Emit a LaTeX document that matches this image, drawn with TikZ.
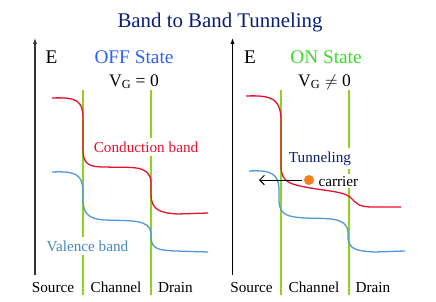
\documentclass[tikz,border=0pt]{standalone}
\usepackage{fontspec}
\setmainfont{Liberation Serif}
\definecolor{navy}{HTML}{0A1E78}
\definecolor{cband}{HTML}{E8102A}
\definecolor{vband}{HTML}{4F97DA}
\definecolor{gate}{HTML}{8CD41E}
\definecolor{offblue}{HTML}{2E62F5}
\definecolor{ongreen}{HTML}{3CDC2C}
\definecolor{carr}{HTML}{F0821E}
\usetikzlibrary{arrows.meta}

\begin{document}
\begin{tikzpicture}[x=0.03cm, y=-0.03cm,
  lbl/.style={font=\fontsize{13}{15}\selectfont, inner sep=1pt, anchor=base},
  state/.style={font=\fontsize{16.5}{19}\selectfont, inner sep=1pt, anchor=base},
  bandlbl/.style={lbl, fill=white, inner sep=3pt},
  axis/.style={draw=black!80, line width=1.2pt, -{Latex[length=5pt,width=3.5pt]}},
  wall/.style={draw=gate, line width=1pt},
  cb/.style={draw=cband, line width=1.1pt},
  vb/.style={draw=vband, line width=1.1pt},
  carrier/.style={circle, fill=carr, minimum size=0.3cm, inner sep=0pt},
  tunarrow/.style={draw=black, line width=0.8pt, -{Straight Barb[length=4pt,width=8pt]}},
]
\useasboundingbox (0,0) rectangle (436,302);

\node[state, font=\fontsize{17.8}{20}\selectfont, text=navy] (title) at (220,27) {Band to Band Tunneling};

% OFF state
\coordinate (aoff0) at (35,275);
\coordinate (aoff1) at (35,38);
\draw[axis] (aoff0) -- (aoff1);
\coordinate (woff1a) at (83,90);
\coordinate (woff1b) at (83,295);
\coordinate (woff2a) at (151,90);
\coordinate (woff2b) at (151,295);
\draw[wall] (woff1a) -- (woff1b);
\draw[wall] (woff2a) -- (woff2b);

\node[state] (eoff) at (51.5,63) {E};
\node[state, text=offblue] (off) at (134,63) {OFF State};
\node[state, font=\fontsize{15}{18}\selectfont] (vgoff) at (134,86) {V$_\mathrm{G}$ = 0};
\node[bandlbl, text=cband] (cbl) at (146,152) {Conduction band};
\node[bandlbl, text=vband!90!black] (vbl) at (87.5,251) {Valence band};
\node[lbl] (srcoff) at (53,292) {Source};
\node[lbl] (choff) at (116,292) {Channel};
\node[lbl] (droff) at (175.5,292) {Drain};

\draw[cb] (52,98) .. controls (77,97) and (83,101) .. (83,118) -- (83,152)
  .. controls (84,165) and (90,167) .. (105,167) .. controls (130,168) and (150,164) .. (151,182)
  -- (151,196) .. controls (152,210) and (160,213) .. (178,214) -- (208,213);
\draw[vb] (52,172) .. controls (75,171) and (82,174) .. (83,190) -- (83,202)
  .. controls (84,215) and (90,219) .. (105,220) .. controls (130,221) and (150,219) .. (151,233)
  -- (151,238) .. controls (152,249) and (158,250) .. (175,251) -- (208,252);

% ON state
\coordinate (aon0) at (232.5,275);
\coordinate (aon1) at (232.5,38);
\draw[axis, draw=black] (aon0) -- (aon1);
\coordinate (won1a) at (281,90);
\coordinate (won1b) at (281,295);
\coordinate (won2a) at (349,90);
\coordinate (won2b) at (349,295);
\draw[wall] (won1a) -- (won1b);
\draw[wall] (won2a) -- (won2b);

\node[state] (eon) at (250,63) {E};
\node[state, text=ongreen] (on) at (326,63) {ON State};
\node[state, font=\fontsize{15}{18}\selectfont] (vgon) at (324.5,86) {V$_\mathrm{G}$ $\neq$ 0};
\node[bandlbl, text=navy] (tun) at (320,162) {Tunneling};
\node[bandlbl, anchor=base west, inner sep=2pt] (carlbl) at (316,186) {carrier};
\node[lbl] (srcon) at (251.5,292) {Source};
\node[lbl] (chon) at (314,292) {Channel};
\node[lbl] (dron) at (373,292) {Drain};

\draw[cb] (246,96) .. controls (272,95) and (280,99) .. (281,118) -- (281,168)
  .. controls (282,182) and (290,184) .. (305,187) .. controls (325,191) and (342,191) .. (350,197)
  .. controls (356,203) and (358,207) .. (372,207) -- (401,207);
\draw[vb] (249,171) .. controls (270,170) and (279,173) .. (279,190) -- (279,202)
  .. controls (280,215) and (288,217) .. (305,218) .. controls (325,219) and (347,216) .. (348,232)
  -- (348,238) .. controls (349,250) and (358,251) .. (375,252) -- (405,251);

\node[carrier] (car) at (309,180) {};
\coordinate (tip) at (259,180);
\draw[tunarrow] (car.west) ++(-2,0) -- (tip);
\end{tikzpicture}
\end{document}
